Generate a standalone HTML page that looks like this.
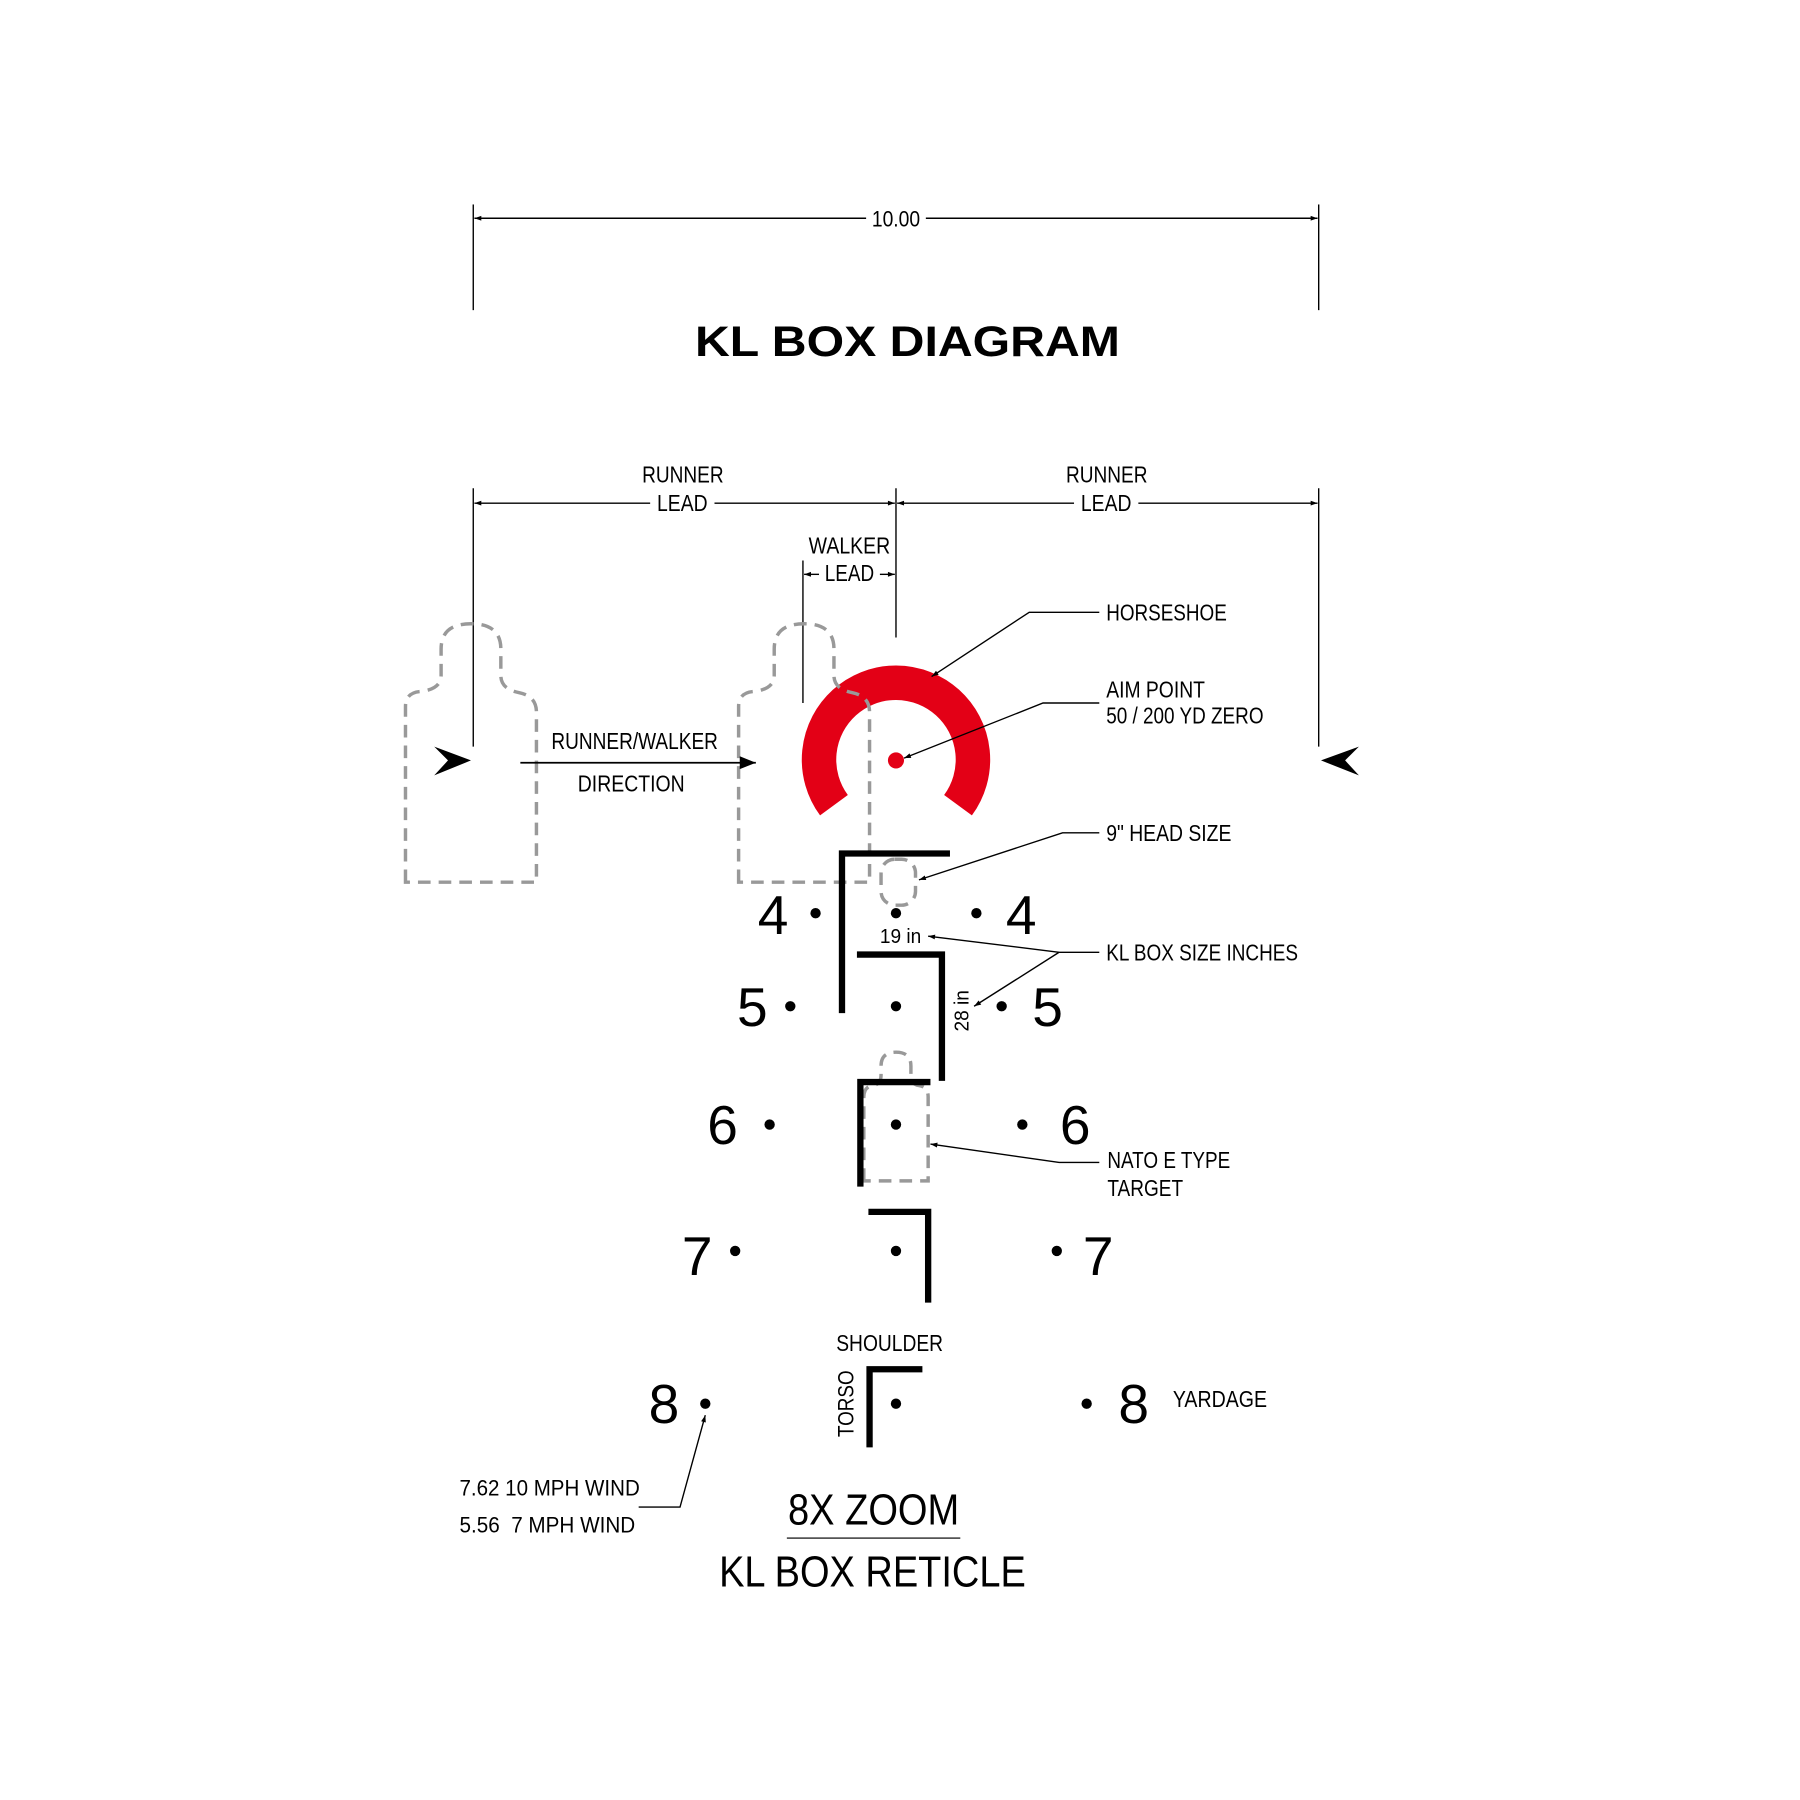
<!DOCTYPE html>
<html><head><meta charset="utf-8"><style>
html,body{margin:0;padding:0;background:#fff;}
svg{display:block;}
text{font-family:"Liberation Sans",sans-serif;fill:#000;}
.l{font-size:20px;}
.n{font-size:48px;}
</style></head><body>
<svg width="1800" height="1800" viewBox="0 0 1567 1567" xmlns="http://www.w3.org/2000/svg">
<defs>
<marker id="a" viewBox="0 0 10 10" refX="10" refY="5" markerWidth="12" markerHeight="6" orient="auto-start-reverse" markerUnits="userSpaceOnUse"><path d="M0,1.5 L10,5 L0,8.5 Z" fill="#000"/></marker>
<marker id="b" viewBox="0 0 10 10" refX="10" refY="5" markerWidth="28" markerHeight="14" orient="auto" markerUnits="userSpaceOnUse"><path d="M0,1 L10,5 L0,9 Z" fill="#000"/></marker>
</defs>
<rect width="1567" height="1567" fill="#fff"/>
<g stroke="#000" stroke-width="1.2" fill="none">
<line x1="412" y1="178" x2="412" y2="270"/><line x1="1148" y1="178" x2="1148" y2="270"/>
<line x1="754" y1="190" x2="413" y2="190" marker-end="url(#a)"/>
<line x1="806" y1="190" x2="1147" y2="190" marker-end="url(#a)"/>
<line x1="412" y1="425" x2="412" y2="650"/><line x1="780" y1="425" x2="780" y2="555"/><line x1="1148" y1="425" x2="1148" y2="650"/>
<line x1="566" y1="438" x2="413" y2="438" marker-end="url(#a)"/>
<line x1="622" y1="438" x2="779" y2="438" marker-end="url(#a)"/>
<line x1="935" y1="438" x2="781" y2="438" marker-end="url(#a)"/>
<line x1="991" y1="438" x2="1147" y2="438" marker-end="url(#a)"/>
<line x1="699" y1="488" x2="699" y2="612"/>
<line x1="713" y1="500" x2="700" y2="500" marker-end="url(#a)"/>
<line x1="766" y1="500" x2="779" y2="500" marker-end="url(#a)"/>
</g>
<text x="759" y="197" class="l" style="font-size:19px" textLength="42" lengthAdjust="spacingAndGlyphs">10.00</text>
<text x="605" y="310" style="font-size:37px;font-weight:bold" textLength="370" lengthAdjust="spacingAndGlyphs">KL BOX DIAGRAM</text>
<text x="559" y="420" class="l" textLength="71" lengthAdjust="spacingAndGlyphs">RUNNER</text>
<text x="572" y="445" class="l" textLength="44" lengthAdjust="spacingAndGlyphs">LEAD</text>
<text x="928" y="420" class="l" textLength="71" lengthAdjust="spacingAndGlyphs">RUNNER</text>
<text x="941" y="445" class="l" textLength="44" lengthAdjust="spacingAndGlyphs">LEAD</text>
<text x="704" y="482" class="l" textLength="71" lengthAdjust="spacingAndGlyphs">WALKER</text>
<text x="718" y="506" class="l" textLength="43" lengthAdjust="spacingAndGlyphs">LEAD</text>

<path d="M726,701 A67,67 0 1 1 834,701" stroke="#e30016" stroke-width="30" fill="none"/>
<circle cx="780" cy="662" r="7" fill="#e30016"/>

<g stroke="#999" stroke-width="3" fill="none" stroke-dasharray="11 7">
<path d="M353,768 V615 Q353,603 366,602 Q384,600 384,588 V565 Q384,543 410,543 Q436,543 436,565 V588 Q436,600 452,603 Q467,606 467,620 V768 Z"/>
<path d="M643,768 V615 Q643,603 656,602 Q674,600 674,588 V565 Q674,543 700,543 Q726,543 726,565 V588 Q726,600 742,603 Q757,606 757,620 V768 Z"/>
<rect x="767" y="748" width="30" height="40" rx="12"/>
<path d="M752,1028 V955 Q752,946 760,945 Q767,944 767,936 V928 Q767,916 780,916 Q793,916 793,928 V936 Q793,944 800,945 Q808,946 808,955 V1028 Z"/>
</g>

<path d="M378,650 L410,662 L378,675 L390,662 Z" fill="#000"/>
<path d="M1183,650 L1150,662 L1183,675 L1171,662 Z" fill="#000"/>
<line x1="453" y1="664" x2="658" y2="664" stroke="#000" stroke-width="1.5" marker-end="url(#b)"/>
<text x="480" y="652" class="l" textLength="145" lengthAdjust="spacingAndGlyphs">RUNNER/WALKER</text>
<text x="503" y="689" class="l" textLength="93" lengthAdjust="spacingAndGlyphs">DIRECTION</text>

<g stroke="#000" stroke-width="5.5" fill="none" stroke-linecap="butt">
<path d="M733,882 V743 H827"/>
<path d="M746,831 H820 V941"/>
<path d="M749,1033 V942 H810"/>
<path d="M756,1055 H808 V1134"/>
<path d="M757,1260 V1192 H803"/>
</g>

<g fill="#000">
<circle cx="710" cy="795" r="4.5"/><circle cx="780" cy="795" r="4.5"/><circle cx="850" cy="795" r="4.5"/>
<circle cx="688" cy="876" r="4.5"/><circle cx="780" cy="876" r="4.5"/><circle cx="872" cy="876" r="4.5"/>
<circle cx="670" cy="979" r="4.5"/><circle cx="780" cy="979" r="4.5"/><circle cx="890" cy="979" r="4.5"/>
<circle cx="640" cy="1089" r="4.5"/><circle cx="780" cy="1089" r="4.5"/><circle cx="920" cy="1089" r="4.5"/>
<circle cx="614" cy="1222" r="4.5"/><circle cx="780" cy="1222" r="4.5"/><circle cx="946" cy="1222" r="4.5"/>
</g>
<text x="673" y="813" class="n" text-anchor="middle">4</text><text x="889" y="813" class="n" text-anchor="middle">4</text>
<text x="655" y="893" class="n" text-anchor="middle">5</text><text x="912" y="893" class="n" text-anchor="middle">5</text>
<text x="629" y="996" class="n" text-anchor="middle">6</text><text x="936" y="996" class="n" text-anchor="middle">6</text>
<text x="607" y="1110" class="n" text-anchor="middle">7</text><text x="956" y="1110" class="n" text-anchor="middle">7</text>
<text x="578" y="1239" class="n" text-anchor="middle">8</text><text x="987" y="1239" class="n" text-anchor="middle">8</text>

<g stroke="#000" stroke-width="1.2" fill="none">
<polyline points="957,533 896,533 811,589" marker-end="url(#a)"/>
<polyline points="957,612 908,612 787,660" marker-end="url(#a)"/>
<polyline points="957,725 925,725 800,766" marker-end="url(#a)"/>
<polyline points="957,829 922,829 808,815" marker-end="url(#a)"/>
<line x1="922" y1="829" x2="848" y2="876" marker-end="url(#a)"/>
<polyline points="957,1012 922,1012 810,996" marker-end="url(#a)"/>
<polyline points="556,1312 592,1312 614,1232" marker-end="url(#a)"/>
</g>
<line x1="685" y1="1339" x2="836" y2="1339" stroke="#555" stroke-width="1.5"/>

<text x="963" y="540" class="l" textLength="105" lengthAdjust="spacingAndGlyphs">HORSESHOE</text>
<text x="963" y="607" class="l" textLength="86" lengthAdjust="spacingAndGlyphs">AIM POINT</text>
<text x="963" y="630" class="l" textLength="137" lengthAdjust="spacingAndGlyphs">50 / 200 YD ZERO</text>
<text x="963" y="732" class="l" textLength="109" lengthAdjust="spacingAndGlyphs">9" HEAD SIZE</text>
<text x="963" y="836" class="l" textLength="167" lengthAdjust="spacingAndGlyphs">KL BOX SIZE INCHES</text>
<text x="964" y="1017" class="l" textLength="107" lengthAdjust="spacingAndGlyphs">NATO E TYPE</text>
<text x="964" y="1041" class="l" textLength="66" lengthAdjust="spacingAndGlyphs">TARGET</text>
<text x="1021" y="1225" class="l" textLength="82" lengthAdjust="spacingAndGlyphs">YARDAGE</text>
<text x="728" y="1176" class="l" textLength="93" lengthAdjust="spacingAndGlyphs">SHOULDER</text>
<text x="766" y="821" style="font-size:18px" textLength="36" lengthAdjust="spacingAndGlyphs">19 in</text>
<text transform="translate(843,898) rotate(-90)" style="font-size:18px" textLength="36" lengthAdjust="spacingAndGlyphs">28 in</text>
<text transform="translate(743,1251) rotate(-90)" style="font-size:19px" textLength="58" lengthAdjust="spacingAndGlyphs">TORSO</text>
<text x="400" y="1302" style="font-size:19px" textLength="157" lengthAdjust="spacingAndGlyphs">7.62 10 MPH WIND</text>
<text x="400" y="1334" style="font-size:19px" textLength="153" lengthAdjust="spacingAndGlyphs" xml:space="preserve">5.56  7 MPH WIND</text>
<text x="686" y="1327" style="font-size:38px" textLength="149" lengthAdjust="spacingAndGlyphs">8X ZOOM</text>
<text x="626" y="1381" style="font-size:38px" textLength="267" lengthAdjust="spacingAndGlyphs">KL BOX RETICLE</text>
</svg>
</body></html>
